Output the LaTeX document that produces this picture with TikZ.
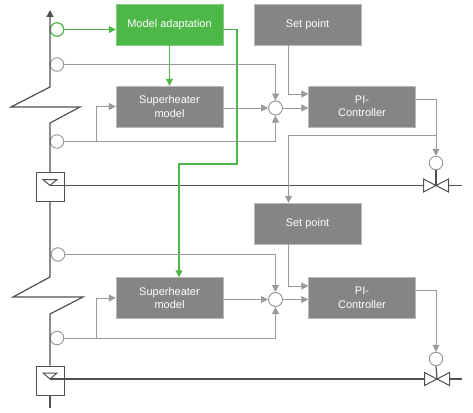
\documentclass[tikz,border=0pt]{standalone}
\usepackage{xcolor}
\usepackage{fontspec}
\setmainfont{Liberation Sans}
\usetikzlibrary{arrows.meta, positioning, calc}
\definecolor{boxgray}{HTML}{858585}
\definecolor{linegray}{HTML}{9A9A9A}
\definecolor{pipegray}{HTML}{505050}
\definecolor{adaptgreen}{HTML}{4DB848}
\tikzset{
  ctrlbox/.style={fill=boxgray, draw=linegray!70, line width=0.4pt, text=white, minimum width=107pt, minimum height=41pt, inner sep=0pt, align=center, font=\fontsize{11}{13.5}\selectfont},
  greenbox/.style={ctrlbox, fill=adaptgreen, draw=adaptgreen!70},
  sensor/.style={circle, draw=linegray, line width=1pt, minimum size=13.5pt, inner sep=0pt},
  greensensor/.style={sensor, draw=adaptgreen, line width=1.2pt},
  signal/.style={draw=linegray, line width=1pt, -{Triangle[length=7pt,width=7pt]}},
  greensignal/.style={signal, draw=adaptgreen, line width=1.1pt},
  pipe/.style={draw=pipegray, line width=1.2pt},
  cellbox/.style={draw=pipegray, line width=1pt, fill=white, minimum width=28pt, minimum height=29pt, inner sep=0pt},
}
\newcommand{\cellmark}[3]{%
  \node[cellbox] (#1) at (#2,#3) {};
  \draw[pipe, line width=1pt] (#2-7,#3-7.5) -- ++(14,0) -- (#2,#3-1.5) -- cycle;
}
\newcommand{\valvemark}[3]{%
  \coordinate (#1) at (#2,#3);
  \draw[pipe, line width=1pt, fill=white] (#2-12.5,#3-6.5) -- (#2+12.5,#3+6.5) -- ++(0,-13) -- (#2-12.5,#3+6.5) -- cycle;
}
\begin{document}
\begin{tikzpicture}[x=1pt, y=-1pt]
    \useasboundingbox (0,0) rectangle (473,412);
    % upper loop
    \node[greenbox] (adapt) at (169.5,24.5) {Model adaptation};
    \node[ctrlbox] (model1) at (169.5,106.5) {Superheater\\model};
    \node[ctrlbox] (set1) at (307.5,24.5) {Set point};
    \node[ctrlbox] (pi1) at (362,106.5) {PI-\\Controller};
    \node[sensor, minimum size=14pt] (sum1) at (275.5,108) {};
    \node[greensensor] (sgreen) at (57,29.5) {};
    \node[sensor] (s1a) at (57,64.5) {};
    \node[sensor] (s1b) at (57,141.5) {};
    \node[sensor] (act1) at (436,163) {};
    % lower loop
    \node[ctrlbox] (set2) at (307.5,223.5) {Set point};
    \node[ctrlbox] (model2) at (169.5,298) {Superheater\\model};
    \node[ctrlbox] (pi2) at (362,298) {PI-\\Controller};
    \node[sensor, minimum size=14pt] (sum2) at (275.5,299.5) {};
    \node[sensor] (s2a) at (58,254.5) {};
    \node[sensor] (s2b) at (57,338) {};
    \node[sensor] (act2) at (436,359) {};

    % steam line with the two cut marks
    \cellmark{cell1}{50}{187}
    \cellmark{cell2}{50}{380.5}
    \coordinate (linetop) at (50,10);
    \coordinate (lineend) at (50,408);
    \draw[pipe, -{Triangle[length=7pt,width=7pt]}] (cell1.north) -- (50,123) -- (80,107) -- (11,107) -- (50,87) -- (linetop);
    \draw[pipe] (cell2.north) -- (50,314) -- (83,297) -- (13,297) -- (50,277) -- (cell1.south);
    \draw[pipe] (cell2.south) -- (lineend);

    % pipes and valves
    \coordinate (pipe1) at (50,185.5);
    \coordinate (pipe2) at (50,379);
    \coordinate (pipe1end) at (462,185.5);
    \coordinate (pipe2end) at (462,379);
    \draw[pipe] (pipe1) -- (pipe1end);
    \draw[pipe] (pipe2) -- (pipe2end);
    \valvemark{valve1}{436}{185.5}
    \valvemark{valve2}{437}{379}
    \draw[pipe] (act1.south) -- (valve1);
    \draw[pipe] (act2.south) -- (valve2);

    % green signals
    \draw[greensignal] (sgreen.east) -- (sgreen.east -| adapt.west);
    \draw[greensignal] (adapt.south) -- (model1.north);
    \coordinate (gtop) at (237,29.5);
    \coordinate (gmid) at (237,164);
    \coordinate (gdrop) at (179,164);
    \draw[greensignal] (gtop -| adapt.east) -- (gtop) -- (gmid) -- (gdrop) -- (gdrop |- model2.north);

    % upper gray signals
    \draw[signal] (s1a.east) -| (sum1.north);
    \draw[signal] (s1b.east) -| (sum1.south);
    \coordinate (tap1) at (96,141.5);
    \draw[signal] (tap1) |- (model1.west);
    \draw[signal] (model1.east |- sum1) -- (sum1.west);
    \draw[signal] (sum1.east) -- (sum1 -| pi1.west);
    \coordinate (setin1) at (288,94);
    \draw[signal] (setin1 |- set1.south) -- (setin1) -- (setin1 -| pi1.west);
    \coordinate (piout1) at (416,99);
    \draw[signal] (piout1) -| (act1.north);
    \coordinate (tap2) at (436,135);
    \coordinate (setdrop) at (288.5,135);
    \draw[signal] (tap2) -- (setdrop) -- (setdrop |- set2.north);

    % lower gray signals
    \draw[signal] (s2a.east) -| (sum2.north);
    \draw[signal] (s2b.east) -| (sum2.south);
    \coordinate (tap3) at (96,338);
    \draw[signal] (tap3) |- (model2.west);
    \draw[signal] (model2.east |- sum2) -- (sum2.west);
    \draw[signal] (sum2.east) -- (sum2 -| pi2.west);
    \coordinate (setin2) at (288,286);
    \draw[signal] (setin2 |- set2.south) -- (setin2) -- (setin2 -| pi2.west);
    \coordinate (piout2) at (416,290);
    \draw[signal] (piout2) -| (act2.north);
  \end{tikzpicture}
\end{document}
